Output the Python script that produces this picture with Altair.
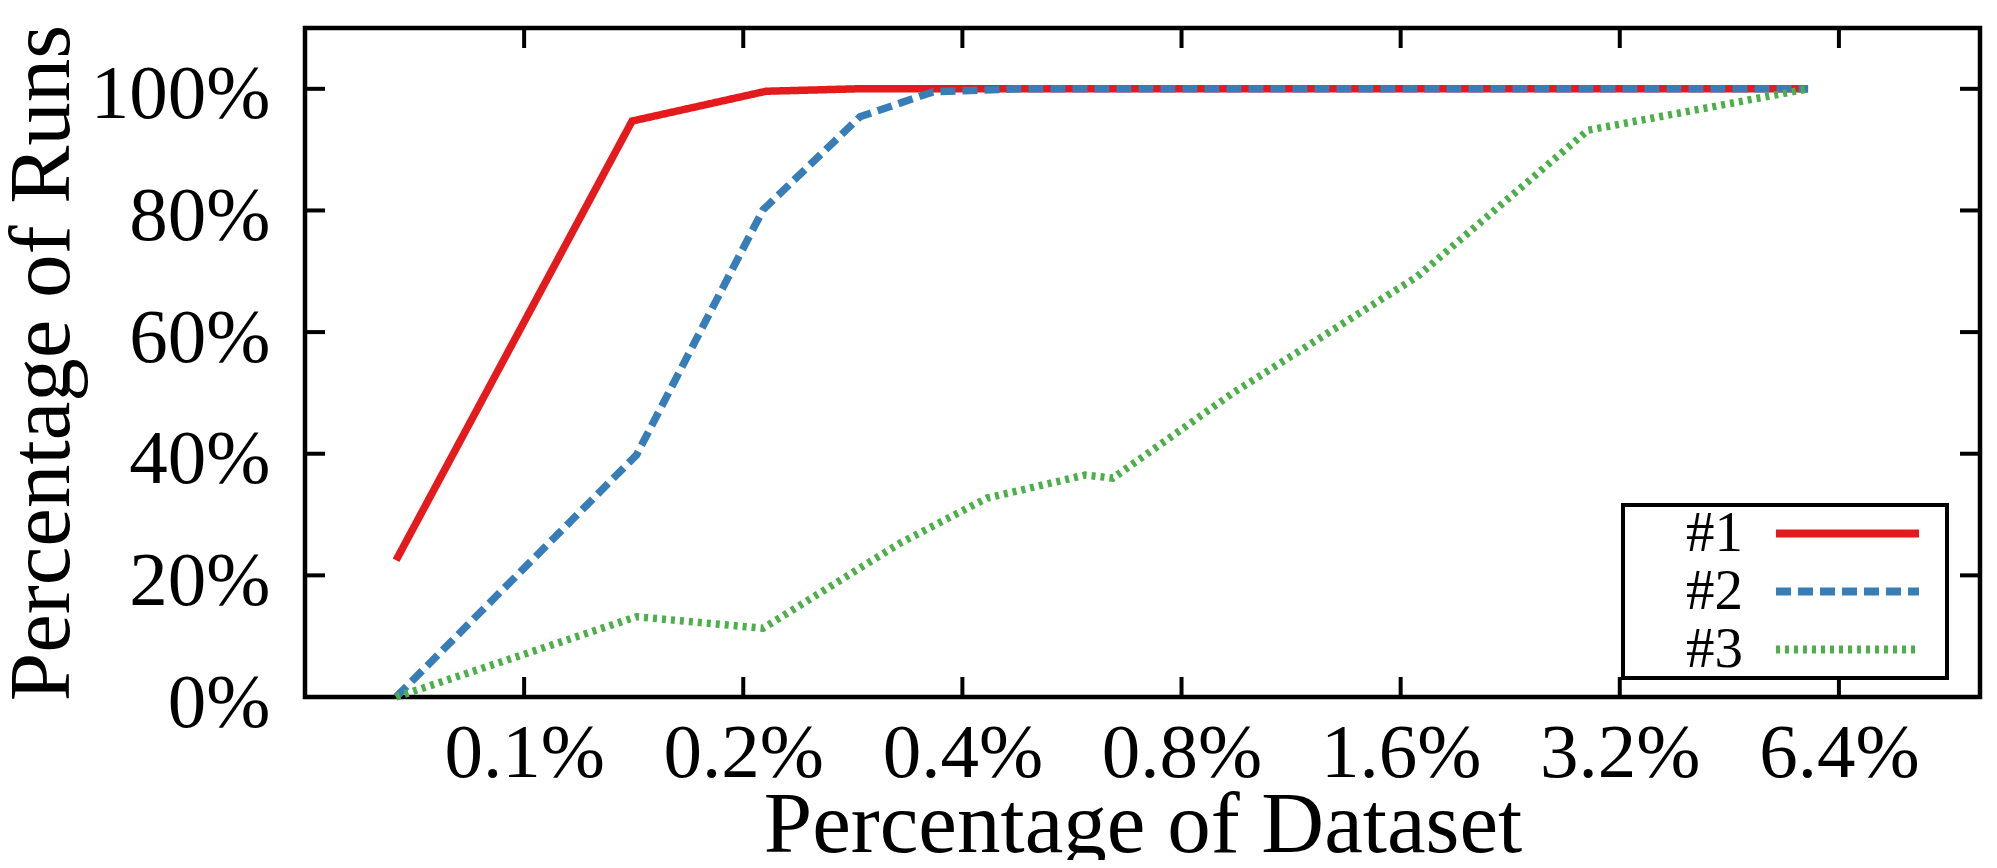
import altair as alt
import pandas as pd

# ---- data ----
series_names = ["#1", "#2", "#3"]
red_x = [0.0667, 0.1407, 0.2149, 0.2866, 5.805]
red_y = [22.5, 94.7, 99.6, 100.0, 100.0]
blue_x = [0.0667, 0.1427, 0.2129, 0.2893, 0.3645, 0.4754, 5.805]
blue_y = [0.0, 39.8, 80.1, 95.4, 99.5, 100.0, 100.0]
green_x = [0.0667, 0.1427, 0.2129, 0.3284, 0.4323, 0.5897, 0.644, 0.9415, 1.685, 2.894, 5.805]
green_y = [0.0, 13.2, 11.3, 25.3, 32.7, 36.5, 36.0, 50.0, 69.1, 93.2, 100.0]
x_ticks = [0.1, 0.2, 0.4, 0.8, 1.6, 3.2, 6.4]
y_ticks = [0, 20, 40, 60, 80, 100]
colors = ["#e41a1c", "#377eb8", "#4daf4a"]
dashes = [[1, 0], [15, 7], [4, 5]]

rows = []
for name, xs, ys in zip(series_names, [red_x, blue_x, green_x], [red_y, blue_y, green_y]):
    for i, (a, b) in enumerate(zip(xs, ys)):
        rows.append({"series": name, "x": a, "y": b, "order": i})
df = pd.DataFrame(rows)
xt = pd.DataFrame({"v": x_ticks})
yt = pd.DataFrame({"v": y_ticks})

W, H = 1675, 669
FONT = "Liberation Serif"
TICK = 20

xscale = alt.Scale(type="log", base=2, domain=[0.05, 10], nice=False)
yscale = alt.Scale(domain=[0, 110], nice=False)

x_axis = alt.Axis(values=x_ticks, labelExpr="datum.value + '%'",
                  title="Percentage of Dataset", titleY=154,
                  titleBaseline="alphabetic", labelPadding=18,
                  labelBaseline="top")
y_axis = alt.Axis(values=y_ticks, labelExpr="datum.value + '%'",
                  title="Percentage of Runs", titleX=-237,
                  titleBaseline="alphabetic", labelPadding=35,
                  labelOffset=6)

NB = "\u00a0"    # no-break space (spacer inside legend labels)
ZW = "\u200b"    # zero-width space keeps the spacers from being trimmed

lines = alt.Chart(df).mark_line(strokeWidth=7.5, strokeCap="butt").encode(
    x=alt.X("x:Q", scale=xscale, axis=x_axis, title="Percentage of Dataset"),
    y=alt.Y("y:Q", scale=yscale, axis=y_axis, title="Percentage of Runs"),
    color=alt.Color("series:N", scale=alt.Scale(domain=series_names, range=colors),
                    legend=alt.Legend(
                        orient="none", legendX=1318, legendY=477,
                        title=ZW + NB + ZW, titleOrient="right", titleFontSize=74,
                        titlePadding=0,
                        symbolType="stroke", symbolSize=143 * 143,
                        symbolStrokeWidth=8,
                        labelFont=FONT, labelFontSize=57, labelAlign="right",
                        labelLimit=600,
                        labelExpr="datum.label + '" + NB * 13 + ZW + "'",
                        labelOffset=5.25, symbolOffset=149,
                        clipHeight=57, rowPadding=0, padding=0,
                        strokeColor="black", fillColor="white")),
    strokeDash=alt.StrokeDash("series:N",
                              scale=alt.Scale(domain=series_names, range=dashes),
                              legend=None),
    order="order:Q",
)

bottom_ticks = alt.Chart(xt).mark_rule(color="black", strokeWidth=4).encode(
    x=alt.X("v:Q", scale=xscale, axis=x_axis, title="Percentage of Dataset"),
    y=alt.value(H), y2=alt.value(H - TICK))
top_ticks = alt.Chart(xt).mark_rule(color="black", strokeWidth=4).encode(
    x=alt.X("v:Q", scale=xscale, axis=x_axis, title="Percentage of Dataset"),
    y=alt.value(0), y2=alt.value(TICK))
left_ticks = alt.Chart(yt).mark_rule(color="black", strokeWidth=4).encode(
    y=alt.Y("v:Q", scale=yscale, axis=y_axis, title="Percentage of Runs"),
    x=alt.value(0), x2=alt.value(TICK))
right_ticks = alt.Chart(yt).mark_rule(color="black", strokeWidth=4).encode(
    y=alt.Y("v:Q", scale=yscale, axis=y_axis, title="Percentage of Runs"),
    x=alt.value(W - TICK), x2=alt.value(W))

chart = alt.layer(lines, bottom_ticks, top_ticks, left_ticks, right_ticks).properties(
    width=W, height=H,
    autosize=alt.AutoSizeParams(type="none"),
    padding={"left": 297, "top": 20, "right": 8, "bottom": 163},
).configure_view(
    stroke="black", strokeWidth=4.5
).configure_axis(
    grid=False, domain=False, ticks=False, tickSize=0,
    labelFont=FONT, labelFontSize=77, labelColor="black",
    titleFont=FONT, titleFontSize=87, titleColor="black", titleFontWeight="normal",
).configure_legend(
    strokeWidth=4, titleFont=FONT, labelColor="black"
)

chart.save("out.html", embed_options={"renderer": "svg", "actions": False})
